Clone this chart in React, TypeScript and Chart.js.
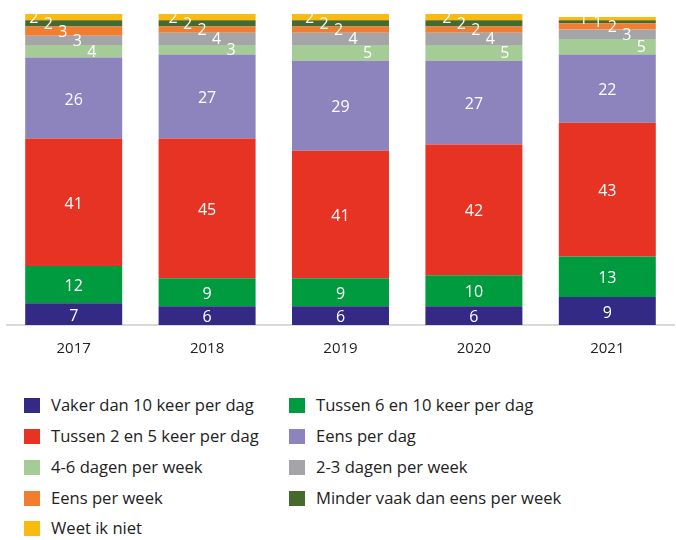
import React, { useEffect, useRef } from "react";
import { Chart, registerables } from "chart.js";

Chart.register(...registerables);

const FONT = "'Open Sans', 'Noto Sans', sans-serif";

const years = ["2017", "2018", "2019", "2020", "2021"];

const seriesNames = [
  "Vaker dan 10 keer per dag",
  "Tussen 6 en 10 keer per dag",
  "Tussen 2 en 5 keer per dag",
  "Eens per dag",
  "4-6 dagen per week",
  "2-3 dagen per week",
  "Eens per week",
  "Minder vaak dan eens per week",
  "Weet ik niet",
];

const vakerDan10 = [7, 6, 6, 6, 9];
const tussen6en10 = [12, 9, 9, 10, 13];
const tussen2en5 = [41, 45, 41, 42, 43];
const eensPerDag = [26, 27, 29, 27, 22];
const dagen4tot6 = [4, 3, 5, 5, 5];
const dagen2tot3 = [3, 4, 4, 4, 3];
const eensPerWeek = [3, 2, 2, 2, 2];
const minderVaak = [2, 2, 2, 2, 1];
const weetIkNiet = [2, 2, 2, 2, 1];

const seriesValues = [
  vakerDan10,
  tussen6en10,
  tussen2en5,
  eensPerDag,
  dagen4tot6,
  dagen2tot3,
  eensPerWeek,
  minderVaak,
  weetIkNiet,
];

const colors = [
  "#332A86",
  "#009B3E",
  "#E63323",
  "#8E84BD",
  "#A5CC96",
  "#A5A4A8",
  "#F07D30",
  "#466A2D",
  "#FBBA10",
];

// styling for staggered small labels
const SMALL_FIRST = 4;
const stagger0 = [-40, -34, -31, -27, -24];
const staggerStep = 14.5;

const labelPlugin = {
  id: "segLabels",
  afterDatasetsDraw(chart: any) {
    const ctx = chart.ctx;
    ctx.save();
    ctx.fillStyle = "#ffffff";
    ctx.font = `16px ${FONT}`;
    ctx.textAlign = "center";
    ctx.textBaseline = "middle";
    chart.data.datasets.forEach((ds: any, di: number) => {
      const meta = chart.getDatasetMeta(di);
      meta.data.forEach((el: any, i: number) => {
        const v = ds.data[i];
        const p = el.getProps(["x", "y", "base"], true);
        let cx = p.x;
        let cy = (p.y + p.base) / 2;
        if (di >= SMALL_FIRST) {
          const k = seriesValues.length - 1 - di;
          cx = p.x + stagger0[i] + k * staggerStep;
          cy += 1;
        } else {
          cy += 2;
        }
        ctx.fillText(String(v), cx, cy);
      });
    });
    ctx.restore();
  },
};

export default function App() {
  const ref = useRef<HTMLCanvasElement | null>(null);

  useEffect(() => {
    document.body.style.margin = "0";
    const chart = new Chart(ref.current as HTMLCanvasElement, {
      type: "bar",
      data: {
        labels: years,
        datasets: seriesNames.map((name, i) => ({
          label: name,
          data: seriesValues[i],
          backgroundColor: colors[i],
          borderWidth: 0,
          barPercentage: 0.727,
          categoryPercentage: 1,
        })),
      },
      options: {
        responsive: false,
        animation: false,
        layout: { padding: { top: 14, left: 7, right: 2, bottom: 0 } },
        plugins: {
          legend: { display: false },
          tooltip: { enabled: false },
        },
        scales: {
          x: {
            stacked: true,
            grid: { display: false, drawTicks: false },
            border: { display: true, color: "#D9D9D9", width: 2 },
            ticks: {
              color: "#222222",
              font: { family: FONT, size: 15 },
              padding: 15,
            },
            afterFit: (scale: any) => {
              scale.height = 45;
            },
          },
          y: {
            stacked: true,
            display: false,
            min: 0,
            max: 100,
          },
        },
      },
      plugins: [labelPlugin],
    });
    return () => chart.destroy();
  }, []);

  const colX = [24, 289];
  const rowY = [405, 436, 467, 498, 528];

  return (
    <div style={{ position: "fixed", left: 0, top: 0, width: 676, height: 540, background: "#fff" }}>
      <canvas ref={ref} width={676} height={370} style={{ display: "block" }} />
      {seriesNames.map((name, i) => {
        const col = i % 2;
        const row = Math.floor(i / 2);
        const x = colX[col];
        const y = rowY[row];
        return (
          <div key={name} style={{ position: "absolute", left: x, top: y - 12, height: 24, display: "flex", alignItems: "center", whiteSpace: "nowrap" }}>
            <span style={{ display: "inline-block", width: 16, height: 15, background: colors[i], marginRight: 11, flex: "none" }} />
            <span style={{ fontFamily: FONT, fontSize: 16.6, color: "#222222", lineHeight: "24px" }}>{name}</span>
          </div>
        );
      })}
    </div>
  );
}
